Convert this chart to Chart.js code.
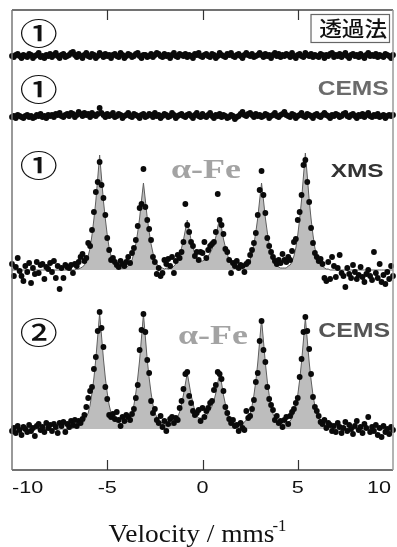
<!DOCTYPE html>
<html>
<head>
<meta charset="utf-8">
<script src="https://cdn.jsdelivr.net/npm/chart.js@4.4.1/dist/chart.umd.min.js"></script>
<style>
  html, body { margin: 0; padding: 0; background: #fff; }
  canvas { display: block; }
</style>
</head>
<body>
<canvas id="chart" width="397" height="547"></canvas>
<script>
'use strict';

// ── Data (velocity in mm/s, intensities relative to each baseline) ──
const velocity = [
  -10,-9.9,-9.8,-9.7,-9.6,-9.5,-9.4,-9.3,-9.2,-9.1,
  -9,-8.9,-8.8,-8.7,-8.6,-8.5,-8.4,-8.3,-8.2,-8.1,
  -8,-7.9,-7.8,-7.7,-7.6,-7.5,-7.4,-7.3,-7.2,-7.1,
  -7,-6.9,-6.8,-6.7,-6.6,-6.5,-6.4,-6.3,-6.2,-6.1,
  -6,-5.9,-5.8,-5.7,-5.6,-5.5,-5.4,-5.3,-5.2,-5.1,
  -5,-4.9,-4.8,-4.7,-4.6,-4.5,-4.4,-4.3,-4.2,-4.1,
  -4,-3.9,-3.8,-3.7,-3.6,-3.5,-3.4,-3.3,-3.2,-3.1,
  -3,-2.9,-2.8,-2.7,-2.6,-2.5,-2.4,-2.3,-2.2,-2.1,
  -2,-1.9,-1.8,-1.7,-1.6,-1.5,-1.4,-1.3,-1.2,-1.1,
  -1,-0.9,-0.8,-0.7,-0.6,-0.5,-0.4,-0.3,-0.2,-0.1,
  0,0.1,0.2,0.3,0.4,0.5,0.6,0.7,0.8,0.9,
  1,1.1,1.2,1.3,1.4,1.5,1.6,1.7,1.8,1.9,
  2,2.1,2.2,2.3,2.4,2.5,2.6,2.7,2.8,2.9,
  3,3.1,3.2,3.3,3.4,3.5,3.6,3.7,3.8,3.9,
  4,4.1,4.2,4.3,4.4,4.5,4.6,4.7,4.8,4.9,
  5,5.1,5.2,5.3,5.4,5.5,5.6,5.7,5.8,5.9,
  6,6.1,6.2,6.3,6.4,6.5,6.6,6.7,6.8,6.9,
  7,7.1,7.2,7.3,7.4,7.5,7.6,7.7,7.8,7.9,
  8,8.1,8.2,8.3,8.4,8.5,8.6,8.7,8.8,8.9,
  9,9.1,9.2,9.3,9.4,9.5,9.6,9.7,9.8,9.9,
  10
];
const xTicks = [-10, -5, 0, 5, 10];

// ① transmission
const transDots = [
  0,-1,1,2,0,-2,1,0,-1,2, 1,-2,0,1,3,-1,0,-2,1,0, 2,-1,1,3,0,-2,1,2,-1,0,
  1,3,4,1,-1,2,0,-2,1,3, 0,-1,2,1,-2,0,3,1,-1,2, 0,1,-2,1,2,0,-1,3,1,-2,
  0,2,1,-1,0,2,3,0,-2,1, 1,-1,0,2,-1,1,3,2,0,-1, 2,0,1,-2,1,3,0,-1,2,1,
  0,2,-1,1,0,-2,2,1,3,0, -1,1,2,0,-1,2,1,-2,0,3, 1,0,-1,2,1,3,0,-1,1,2,
  0,-2,1,3,1,0,2,-1,0,1, 3,1,-1,2,0,1,-2,1,3,0, 2,-1,1,0,2,1,-1,3,0,-2,
  1,2,0,-1,3,1,0,2,-1,1, 0,-1,2,1,-2,1,0,2,3,-1, 1,0,2,-1,1,3,0,-2,1,2,
  0,1,-1,2,0,-2,1,3,0,1, 0,2,-1,1,0,-1,2,1,0,-2, 1
];

// ① CEMS
const cems1Dots = [
  -1,0,-2,1,0,-1,-2,0,1,-1, 0,-2,-1,1,0,2,-1,0,-2,1, 0,1,-1,2,1,3,0,-1,1,2,
  0,3,2,-1,1,4,2,0,3,1, 2,-1,3,1,0,2,8,3,1,-1, 2,0,1,3,-1,0,2,1,-2,0,
  1,3,0,-1,2,1,0,-2,1,2, -1,0,2,1,-1,3,0,1,-2,0, 2,1,-1,0,3,1,-2,0,1,2,
  0,-1,1,2,0,-2,1,3,0,-1, 2,0,-1,1,3,0,-2,1,0,2, -1,1,0,-2,-1,1,0,-3,-1,0,
  2,4,1,0,2,3,1,-1,2,0, 1,-1,0,2,1,-2,0,1,3,0, -1,1,2,4,1,0,-1,2,1,-2,
  0,1,3,0,-1,2,1,0,-2,1, 2,0,-1,1,3,1,0,-2,1,0, 2,1,-1,0,2,3,0,-1,1,2,
  0,-2,1,0,2,-1,1,3,0,-1, 1,0,2,-1,0,1,-2,0,1,0, 1
];

// ① XMS
const xmsDots = [
  6,-6,3,12,-1,-6,-11,4,-2,7, -13,2,-4,8,-3,5,6,-9,3,1, 7,-2,9,-8,4,-19,2,-8,5,3,
  2,5,-3,6,4,8,13,16,9,12, 27,24,40,58,78,88,108,85,72,55, 32,20,10,12,8,5,3,9,6,4,
  8,13,7,17,22,30,44,62,66,101, 63,50,41,30,13,8,-4,2,-6,-3, 10,6,11,4,13,-3,9,15,12,18,
  28,66,45,38,28,24,14,18,10,18, 17,28,12,20,24,26,28,38,76,50, 45,36,21,18,10,-3,7,4,9,2,
  5,4,-2,6,8,15,20,27,37,55, 80,99,75,57,32,24,18,13,9,6, 10,7,16,10,8,13,10,19,28,31,
  50,58,75,105,110,88,68,42,27,17, 13,9,11,6,-8,-11,8,-9,13,4, -7,2,15,-3,-6,-17,2,-4,-8,5,
  -2,-9,-5,3,-7,-12,-4,0,-6,-10, 18,-3,-8,6,-12,-5,-14,-2,-9,4, -6
];
const xmsFit = [
  0,0,0,0,0,0,0,0,0,0, 0,0,0,0,0,0,0,0,0,0, 0,0,0,0,0,0,0,0,0,0,
  0,0,0,0,1,1,2,3,5,8, 14,22,35,51,69,92,115,92,69,51, 35,22,14,8,5,3,2,2,2,2,
  3,4,6,10,17,26,38,52,70,87, 70,52,38,26,17,10,6,4,3,2, 1,2,1,2,2,4,6,10,15,22,
  30,40,50,40,30,22,16,12,10,9, 9,10,12,14,17,21,27,33,43,52, 42,31,23,16,10,6,4,2,2,2,
  2,2,3,4,6,10,17,26,38,52, 70,87,70,52,38,26,17,10,6,4, 3,2,2,2,2,4,5,8,14,22,
  35,51,70,94,117,94,70,51,35,22, 14,8,5,4,2,1,1,0,0,0, 0,0,0,0,0,0,0,0,0,0,
  0,0,0,0,0,0,0,0,0,0, 0,0,0,0,0,0,0,0,0,0, 0
];

// ② CEMS
const cems2Dots = [
  -2,1,-4,3,-1,-6,2,0,-3,4, -2,1,-7,3,5,-1,2,-3,6,1, 4,-2,5,2,-4,6,3,7,-3,5,
  2,8,4,9,3,8,6,10,14,22, 31,38,42,60,72,98,117,101,82,42, 30,14,12,15,10,17,9,3,12,8,
  14,12,9,15,20,31,44,79,99,115, 97,69,56,28,16,20,9,6,13,2, 8,-2,5,10,12,6,11,9,21,28,
  40,55,57,33,26,18,14,16,19,8, 21,12,18,21,26,28,39,44,57,55, 50,38,22,16,10,6,9,3,4,-2,
  6,1,-1,18,11,13,20,29,47,56, 88,108,79,67,42,30,24,19,9,13, 6,8,2,9,12,5,13,17,20,26,
  31,52,70,97,112,98,80,55,32,22, 18,13,7,5,9,1,6,4,-2,3, -3,6,2,-4,1,7,-2,4,0,-5,
  3,8,-1,2,-4,5,1,12,-3,2, -2,4,-6,1,-8,3,-3,0,-5,2, -1
];
const cems2Fit = [
  0,0,0,0,0,0,0,0,0,0, 0,0,0,0,0,0,0,0,0,0, 0,0,0,0,0,0,0,0,0,0,
  0,0,1,2,2,3,5,6,8,12, 16,24,36,51,70,93,116,93,70,51, 36,24,16,12,8,7,7,5,5,7,
  7,8,12,16,24,36,51,69,92,115, 92,69,51,36,24,16,12,8,7,6, 4,4,4,4,4,6,8,12,17,25,
  34,45,56,45,34,26,18,13,11,11, 11,12,13,16,19,23,28,36,46,57, 46,34,25,18,12,8,6,5,5,4,
  5,5,7,9,11,15,23,34,48,66, 88,110,88,66,48,34,23,15,11,8, 7,6,5,5,6,7,8,11,16,23,
  34,49,67,89,111,89,67,49,34,23, 16,11,8,6,4,3,2,2,1,0, 0,0,0,0,0,0,0,0,0,0,
  0,0,0,0,0,0,0,0,0,0, 0,0,0,0,0,0,0,0,0,0, 0
];

// baselines of the stacked spectra (same units as the y axis)
const BASE_TRANS = 414;
const BASE_CEMS1 = 354;
const BASE_XMS   = 200;
const BASE_CEMS2 = 41;

// ── Labels inside the frame (anchored in data units) ──
const CJK   = '"Noto Sans CJK JP", sans-serif';
const SANS  = '"Liberation Sans", Arial, sans-serif';
const SERIF = '"Liberation Serif", "Times New Roman", serif';

const notes = [
  { t: '①',    x: -8.59, y: 437, font: `500 31px ${CJK}`, color: '#111', w: 38 },
  { t: '①',    x: -8.59, y: 381, font: `500 31px ${CJK}`, color: '#111', w: 38 },
  { t: '①',    x: -8.59, y: 305, font: `500 31px ${CJK}`, color: '#111', w: 38 },
  { t: '②',    x: -8.59, y: 138, font: `500 31px ${CJK}`, color: '#111', w: 38 },
  { t: '透過法', x: 7.91,  y: 442, font: `500 21px ${CJK}`,  color: '#111', w: 68 },
  { t: 'CEMS', x: 7.91,  y: 381, font: `bold 20px ${SANS}`, color: '#6b6b6b', w: 71 },
  { t: 'XMS',  x: 8.12,  y: 298, font: `bold 18px ${SANS}`, color: '#333', w: 53 },
  { t: 'CEMS', x: 7.96,  y: 139, font: `bold 21px ${SANS}`, color: '#555', w: 72 },
  { t: 'α-Fe', x: 0.18,  y: 299, font: `bold 27px ${SERIF}`, color: '#a3a3a3', w: 70 },
  { t: 'α-Fe', x: 0.55,  y: 133, font: `bold 27px ${SERIF}`, color: '#a3a3a3', w: 70 },
];
const methodBox = { x1: 5.67, x2: 9.79, y1: 428, y2: 456 };

// ── Helpers ───────────────────────────────────────
function pts(rel, base) {
  return velocity.map((v, i) => ({ x: v, y: base + rel[i] }));
}

function drawText(ctx, t, x, y, o) {
  ctx.save();
  ctx.font = o.font;
  const sx = o.sx || (o.w ? o.w / ctx.measureText(t).width : 1);
  ctx.translate(x, y);
  ctx.scale(sx, 1);
  ctx.textAlign = o.align || 'center';
  ctx.textBaseline = o.base || 'middle';
  ctx.fillStyle = o.color || '#000';
  ctx.fillText(t, 0, 0);
  ctx.restore();
}

const dotStyle = {
  showLine: false, pointRadius: 2.9, pointBackgroundColor: '#0a0a0a',
  pointBorderWidth: 0, order: 0, clip: false,
};
const fitStyle = {
  showLine: true, pointRadius: 0, borderColor: '#5e5e5e', borderWidth: 1,
  backgroundColor: '#bdbdbd', tension: 0, order: 1, clip: false,
};

// ── Frame, inner ticks, tick labels, title, notes ─
const decor = {
  id: 'decor',
  afterDraw(chart) {
    const { ctx, chartArea: a, scales: { x: xs, y: ys } } = chart;

    // method box
    const bx1 = xs.getPixelForValue(methodBox.x1), bx2 = xs.getPixelForValue(methodBox.x2);
    const by1 = ys.getPixelForValue(methodBox.y2), by2 = ys.getPixelForValue(methodBox.y1);
    ctx.save();
    ctx.fillStyle = '#fdfdfd';
    ctx.fillRect(bx1, by1, bx2 - bx1, by2 - by1);
    ctx.strokeStyle = '#666';
    ctx.lineWidth = 1.2;
    ctx.strokeRect(bx1 + 0.5, by1 + 0.5, bx2 - bx1, by2 - by1);
    ctx.restore();

    notes.forEach(n => drawText(ctx, n.t, xs.getPixelForValue(n.x), ys.getPixelForValue(n.y), n));

    // frame
    ctx.save();
    ctx.lineWidth = 1.5;
    ctx.strokeStyle = '#444';
    ctx.beginPath();
    ctx.moveTo(a.left, a.top); ctx.lineTo(a.right, a.top);
    ctx.moveTo(a.left, a.bottom); ctx.lineTo(a.right, a.bottom);
    ctx.stroke();
    ctx.strokeStyle = '#777';
    ctx.beginPath(); ctx.moveTo(a.left, a.top); ctx.lineTo(a.left, a.bottom); ctx.stroke();
    ctx.strokeStyle = '#9a9a9a';
    ctx.beginPath(); ctx.moveTo(a.right, a.top); ctx.lineTo(a.right, a.bottom); ctx.stroke();

    // inner ticks top and bottom
    ctx.strokeStyle = '#333';
    ctx.lineWidth = 1.2;
    xTicks.slice(1, -1).forEach(v => {
      const px = Math.round(xs.getPixelForValue(v)) + 0.5;
      ctx.beginPath();
      ctx.moveTo(px, a.bottom); ctx.lineTo(px, a.bottom - 10);
      ctx.moveTo(px, a.top);    ctx.lineTo(px, a.top + 10);
      ctx.stroke();
    });
    ctx.restore();

    // tick labels
    xTicks.forEach((v, i) => {
      const px = xs.getPixelForValue(v);
      const align = i === 0 ? 'left' : i === xTicks.length - 1 ? 'right' : 'center';
      const off = i === xTicks.length - 1 ? -2 : 0;
      drawText(ctx, String(v), px + off, a.bottom + 19,
        { font: `16px ${SANS}`, color: '#111', sx: 1.35, align });
    });

    // axis title
    const tx = xs.getPixelForValue(0) - 94;
    drawText(ctx, 'Velocity / mms', tx, a.bottom + 72,
      { font: `25px ${SERIF}`, color: '#111', w: 166, align: 'left', base: 'alphabetic' });
    drawText(ctx, '-1', tx + 164, a.bottom + 61,
      { font: `16px ${SERIF}`, color: '#111', w: 14, align: 'left', base: 'alphabetic' });
  },
};

// ── Chart ─────────────────────────────────────────
new Chart(document.getElementById('chart'), {
  type: 'scatter',
  data: {
    datasets: [
      { ...fitStyle, data: pts(xmsFit, BASE_XMS),     fill: { value: BASE_XMS } },
      { ...fitStyle, data: pts(cems2Fit, BASE_CEMS2), fill: { value: BASE_CEMS2 } },
      { ...dotStyle, data: pts(transDots, BASE_TRANS) },
      { ...dotStyle, data: pts(cems1Dots, BASE_CEMS1) },
      { ...dotStyle, data: pts(xmsDots, BASE_XMS) },
      { ...dotStyle, data: pts(cems2Dots, BASE_CEMS2) },
    ],
  },
  options: {
    responsive: false,
    animation: false,
    devicePixelRatio: 1,
    events: [],
    layout: { padding: { left: 12, right: 2, top: 10, bottom: 77 } },
    plugins: { legend: { display: false }, tooltip: { enabled: false } },
    scales: {
      x: { type: 'linear', min: -10, max: 10, display: false },
      y: { type: 'linear', min: 0, max: 460, display: false },
    },
  },
  plugins: [decor],
});
</script>
</body>
</html>
